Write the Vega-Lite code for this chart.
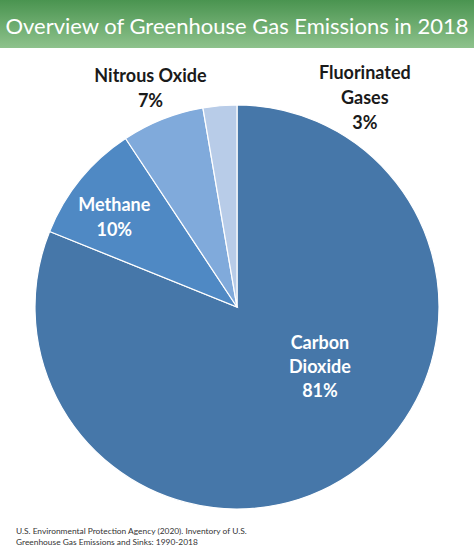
{
  "$schema": "https://vega.github.io/schema/vega-lite/v6.json",
  "padding": 0,
  "spacing": 57,
  "bounds": "flush",
  "config": {"view": {"stroke": null}, "font": "Lato"},
  "title": {
    "text": ["U.S. Environmental Protection Agency (2020). Inventory of U.S.", "Greenhouse Gas Emissions and Sinks: 1990-2018"],
    "orient": "bottom",
    "anchor": "start",
    "frame": "group",
    "dx": 16,
    "offset": 16,
    "fontSize": 8.4,
    "font": "Lato",
    "fontWeight": "normal",
    "color": "#333333",
    "lineHeight": 11
  },
  "vconcat": [
    {
      "width": 474,
      "height": 48,
      "data": {"values": [{"title": "Overview of Greenhouse Gas Emissions in 2018"}]},
      "layer": [
        {
          "mark": {
            "type": "rect",
            "color": {
              "gradient": "linear",
              "x1": 0, "y1": 0, "x2": 0, "y2": 1,
              "stops": [
                {"offset": 0, "color": "#4a9450"},
                {"offset": 1, "color": "#8ec28c"}
              ]
            }
          },
          "encoding": {}
        },
        {
          "mark": {"type": "text", "color": "white", "fontSize": 22, "font": "Lato", "align": "center", "baseline": "middle", "dy": 3},
          "encoding": {"text": {"field": "title", "type": "nominal"}}
        }
      ]
    },
    {
      "width": 474,
      "height": 404,
      "data": {"values": [
        {"gas": "Carbon Dioxide", "share": 81.1, "label": "Carbon\nDioxide\n81%"},
        {"gas": "Methane", "share": 9.6, "label": "Methane\n10%"},
        {"gas": "Nitrous Oxide", "share": 6.6, "label": "Nitrous Oxide\n7%"},
        {"gas": "Fluorinated Gases", "share": 2.7, "label": "Fluorinated\nGases\n3%"}
      ]},
      "encoding": {
        "theta": {"field": "share", "type": "quantitative", "stack": true},
        "order": {"field": "share", "type": "quantitative", "sort": "descending"}
      },
      "layer": [
        {
          "mark": {"type": "arc", "stroke": "white", "strokeWidth": 1.2},
          "encoding": {
            "color": {
              "field": "gas", "type": "nominal", "legend": null,
              "scale": {
                "domain": ["Carbon Dioxide", "Methane", "Nitrous Oxide", "Fluorinated Gases"],
                "range": ["#4677a9", "#4f89c4", "#80aadb", "#b8cce8"]
              }
            }
          }
        },
        {
          "mark": {"type": "text", "radius": 100, "dx": 27, "dy": -46, "fontSize": 18, "fontWeight": "bold", "font": "Lato", "color": "white", "lineBreak": "\n", "lineHeight": 24, "align": "center", "baseline": "middle"},
          "encoding": {
            "detail": {"field": "gas", "type": "nominal"},
            "text": {"condition": {"test": "datum.gas === 'Carbon Dioxide'", "field": "label", "type": "nominal"}, "value": ""}
          }
        },
        {
          "mark": {"type": "text", "radius": 152, "dx": -5, "dy": -5, "fontSize": 18, "fontWeight": "bold", "font": "Lato", "color": "white", "lineBreak": "\n", "lineHeight": 25, "align": "center", "baseline": "middle"},
          "encoding": {
            "detail": {"field": "gas", "type": "nominal"},
            "text": {"condition": {"test": "datum.gas === 'Methane'", "field": "label", "type": "nominal"}, "value": ""}
          }
        },
        {
          "mark": {"type": "text", "radius": 235, "dx": 0, "dy": -12, "fontSize": 18, "fontWeight": "bold", "font": "Lato", "color": "#1a1a1a", "lineBreak": "\n", "lineHeight": 25, "align": "center", "baseline": "middle"},
          "encoding": {
            "detail": {"field": "gas", "type": "nominal"},
            "text": {"condition": {"test": "datum.gas === 'Nitrous Oxide'", "field": "label", "type": "nominal"}, "value": ""}
          }
        },
        {
          "mark": {"type": "text", "radius": 120, "dx": 138, "dy": -113, "fontSize": 18, "fontWeight": "bold", "font": "Lato", "color": "#1a1a1a", "lineBreak": "\n", "lineHeight": 25, "align": "center", "baseline": "middle"},
          "encoding": {
            "detail": {"field": "gas", "type": "nominal"},
            "text": {"condition": {"test": "datum.gas === 'Fluorinated Gases'", "field": "label", "type": "nominal"}, "value": ""}
          }
        }
      ]
    }
  ]
}
